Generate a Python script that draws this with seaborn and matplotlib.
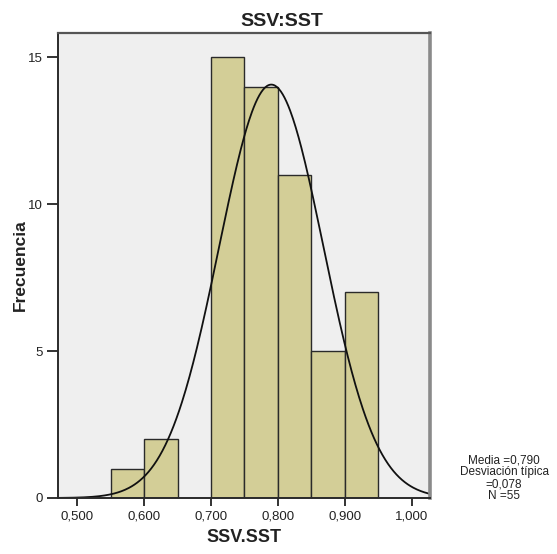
import numpy as np
import pandas as pd
import matplotlib
matplotlib.use("Agg")
import matplotlib.pyplot as plt
import seaborn as sns

# Histogram bins (lower edges) and their frequencies
bin_lower = [0.55, 0.60, 0.65, 0.70, 0.75, 0.80, 0.85, 0.90]
frequencies = [1, 2, 0, 15, 14, 11, 5, 7]
bin_width = 0.05

# Summary statistics shown in the side note
mean_value = 0.790
std_value = 0.078
n_value = 55

x_ticks = [0.5, 0.6, 0.7, 0.8, 0.9, 1.0]
x_tick_labels = ["0,500", "0,600", "0,700", "0,800", "0,900", "1,000"]
y_ticks = [0, 5, 10, 15]

sns.set_style("white")
plt.rcParams["font.family"] = ["Liberation Sans", "DejaVu Sans"]

fig = plt.figure(figsize=(5.57, 5.54), dpi=100)
ax = fig.add_axes([0.1041, 0.1011, 0.6679, 0.8393])
ax.set_facecolor("#EFEFEF")

edges = list(bin_lower) + [bin_lower[-1] + bin_width]
df = pd.DataFrame({
    "centre": [b + bin_width / 2 for b in bin_lower],
    "freq": frequencies,
})
sns.histplot(data=df, x="centre", weights="freq", bins=edges, ax=ax,
             color="#D3CE97", alpha=1.0, edgecolor="#2A2A2A", linewidth=1.0)

# Fitted normal curve scaled to counts per bin
xlim = (0.4716, 1.0269)
xs = np.linspace(xlim[0], xlim[1], 400)
ys = n_value * bin_width / (std_value * np.sqrt(2 * np.pi)) * \
    np.exp(-0.5 * ((xs - mean_value) / std_value) ** 2)
sns.lineplot(x=xs, y=ys, ax=ax, color="#111111", linewidth=1.3)

ax.set_xlim(*xlim)
ax.set_ylim(0, 15.82)
ax.set_xticks(x_ticks)
ax.set_xticklabels(x_tick_labels)
ax.set_yticks(y_ticks)
ax.tick_params(axis="both", bottom=True, left=True, direction="out",
               length=6, width=1.3, color="#222222", labelsize=9.5,
               labelcolor="#222222", pad=3)
ax.tick_params(axis="y", length=8)

for side in ["left", "bottom"]:
    ax.spines[side].set_color("#2A2A2A")
    ax.spines[side].set_linewidth(1.4)
ax.spines["top"].set_color("#555555")
ax.spines["top"].set_linewidth(1.6)
ax.spines["right"].set_color("#8A8A8A")
ax.spines["right"].set_linewidth(2.6)

ax.set_xlabel("SSV.SST", fontsize=13, fontweight="bold", color="#222222", labelpad=5)
ax.set_ylabel("Frecuencia", fontsize=12.5, fontweight="bold", color="#222222", labelpad=0)

fig.text(0.506, 0.962, "SSV:SST", fontsize=14, fontweight="bold",
         color="#222222", ha="center", va="center")

fig.text(0.905, 0.137,
         "Media =0,790\nDesviación típica\n=0,078\nN =55",
         fontsize=8.5, color="#222222", ha="center", va="center",
         linespacing=1.0)

fig.savefig("out.png", dpi=100)
